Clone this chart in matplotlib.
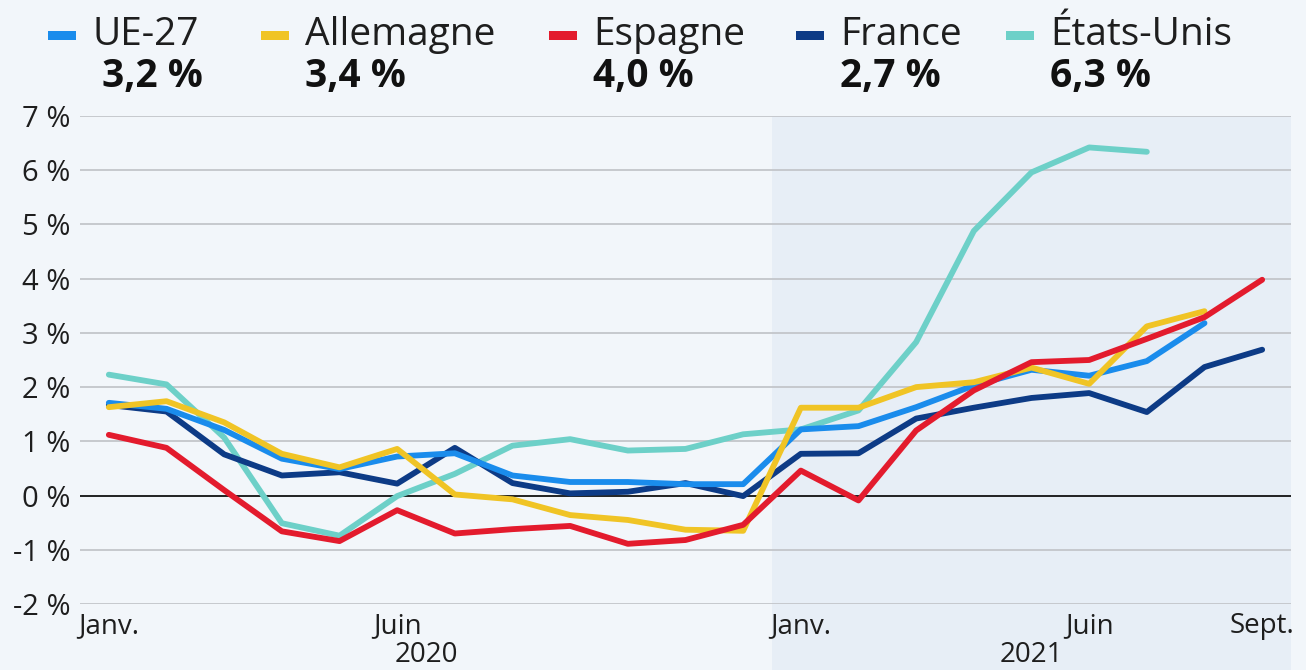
import matplotlib.pyplot as plt
from matplotlib.patches import Rectangle
from matplotlib.transforms import blended_transform_factory
import numpy as np

# Monthly inflation, Jan 2020 -> Sept 2021
months = list(range(21))
ue27 = [1.71, 1.60, 1.21, 0.68, 0.49, 0.72, 0.78, 0.37, 0.25, 0.25, 0.21, 0.21,
        1.22, 1.28, 1.63, 2.03, 2.32, 2.21, 2.48, 3.18, np.nan]
allemagne = [1.63, 1.74, 1.35, 0.77, 0.52, 0.86, 0.02, -0.07, -0.36, -0.45, -0.63, -0.65,
             1.62, 1.62, 2.00, 2.09, 2.36, 2.06, 3.12, 3.40, np.nan]
espagne = [1.12, 0.88, 0.10, -0.66, -0.84, -0.27, -0.70, -0.62, -0.56, -0.89, -0.82, -0.54,
           0.46, -0.09, 1.20, 1.94, 2.46, 2.50, 2.89, 3.29, 3.98]
france = [1.67, 1.55, 0.76, 0.37, 0.43, 0.22, 0.88, 0.23, 0.04, 0.07, 0.23, -0.01,
          0.77, 0.78, 1.42, 1.62, 1.80, 1.89, 1.54, 2.37, 2.69]
etats_unis = [2.23, 2.05, 1.07, -0.51, -0.74, -0.01, 0.40, 0.92, 1.04, 0.83, 0.86, 1.13,
              1.22, 1.57, 2.83, 4.88, 5.96, 6.42, 6.34, np.nan, np.nan]

legend_names = ["UE-27", "Allemagne", "Espagne", "France", "États-Unis"]
legend_values = ["3,2 %", "3,4 %", "4,0 %", "2,7 %", "6,3 %"]
tick_pos = [0, 5, 12, 17, 20]
tick_labels = ["Janv.", "Juin", "Janv.", "Juin", "Sept."]
year_labels = ["2020", "2021"]
year_pos = [5.5, 16.0]
yticks = list(range(-2, 8))

colors = {"UE-27": "#1a8cec", "Allemagne": "#f0c425", "Espagne": "#e31b2d",
          "France": "#0d3b86", "États-Unis": "#6dd0c8"}
bg = "#f2f6fa"
shade = "#e7eef6"

plt.rcParams['font.family'] = ['Open Sans', 'DejaVu Sans']

fig = plt.figure(figsize=(13.06, 6.70), dpi=100, facecolor=bg)
ax = fig.add_axes([80 / 1306, 66 / 670, 1211 / 1306, 488 / 670])
ax.set_facecolor(bg)

ax.set_xlim(-0.5, 20.5)
ax.set_ylim(-2, 7)

# 2021 shaded band
trans = blended_transform_factory(ax.transData, ax.transAxes)
ax.add_patch(Rectangle((11.5, -0.3), 9.0, 1.3, transform=trans, color=shade,
                       zorder=0, clip_on=False, lw=0))

for y in yticks:
    if y == 0:
        ax.axhline(0, color="#111111", lw=1.3, zorder=1)
    else:
        ax.axhline(y, color="#c3c6ca", lw=1.3, zorder=1)

series = [("États-Unis", etats_unis), ("France", france), ("UE-27", ue27),
          ("Allemagne", allemagne), ("Espagne", espagne)]
for name, vals in series:
    ax.plot(months, vals, color=colors[name], lw=4.2, solid_capstyle="round",
            solid_joinstyle="round", zorder=3)

for s in ax.spines.values():
    s.set_visible(False)

ax.set_yticks(yticks)
ax.set_yticklabels(["{} %".format(v) for v in yticks])
ax.set_xticks(tick_pos)
ax.set_xticklabels(tick_labels)
ax.tick_params(axis="y", length=0, pad=7, labelsize=21, labelcolor="#1e1e1e")
ax.tick_params(axis="x", length=0, pad=6, labelsize=20, labelcolor="#1e1e1e")

for lab, xp in zip(year_labels, year_pos):
    ax.text(xp, -0.105, lab, transform=trans, ha="center", va="center",
            fontsize=20, color="#1e1e1e")

# legend at top
leg_x = [92, 305, 593, 840, 1050]
for name, val, xp in zip(legend_names, legend_values, leg_x):
    fig.add_artist(Rectangle(((xp - 44) / 1306, 1 - 40 / 670), 28 / 1306, 9 / 670,
                             transform=fig.transFigure, color=colors[name], lw=0))
    fig.text(xp / 1306, 1 - 35 / 670, name, ha="left", va="center",
             fontsize=28, color="#1e1e1e")
    fig.text(xp / 1306 + 10 / 1306 * (name == "UE-27"), 1 - 76 / 670, val,
             ha="left", va="center", fontsize=28, fontweight="bold", color="#111111")

fig.savefig("out.png", dpi=100, facecolor=bg)
